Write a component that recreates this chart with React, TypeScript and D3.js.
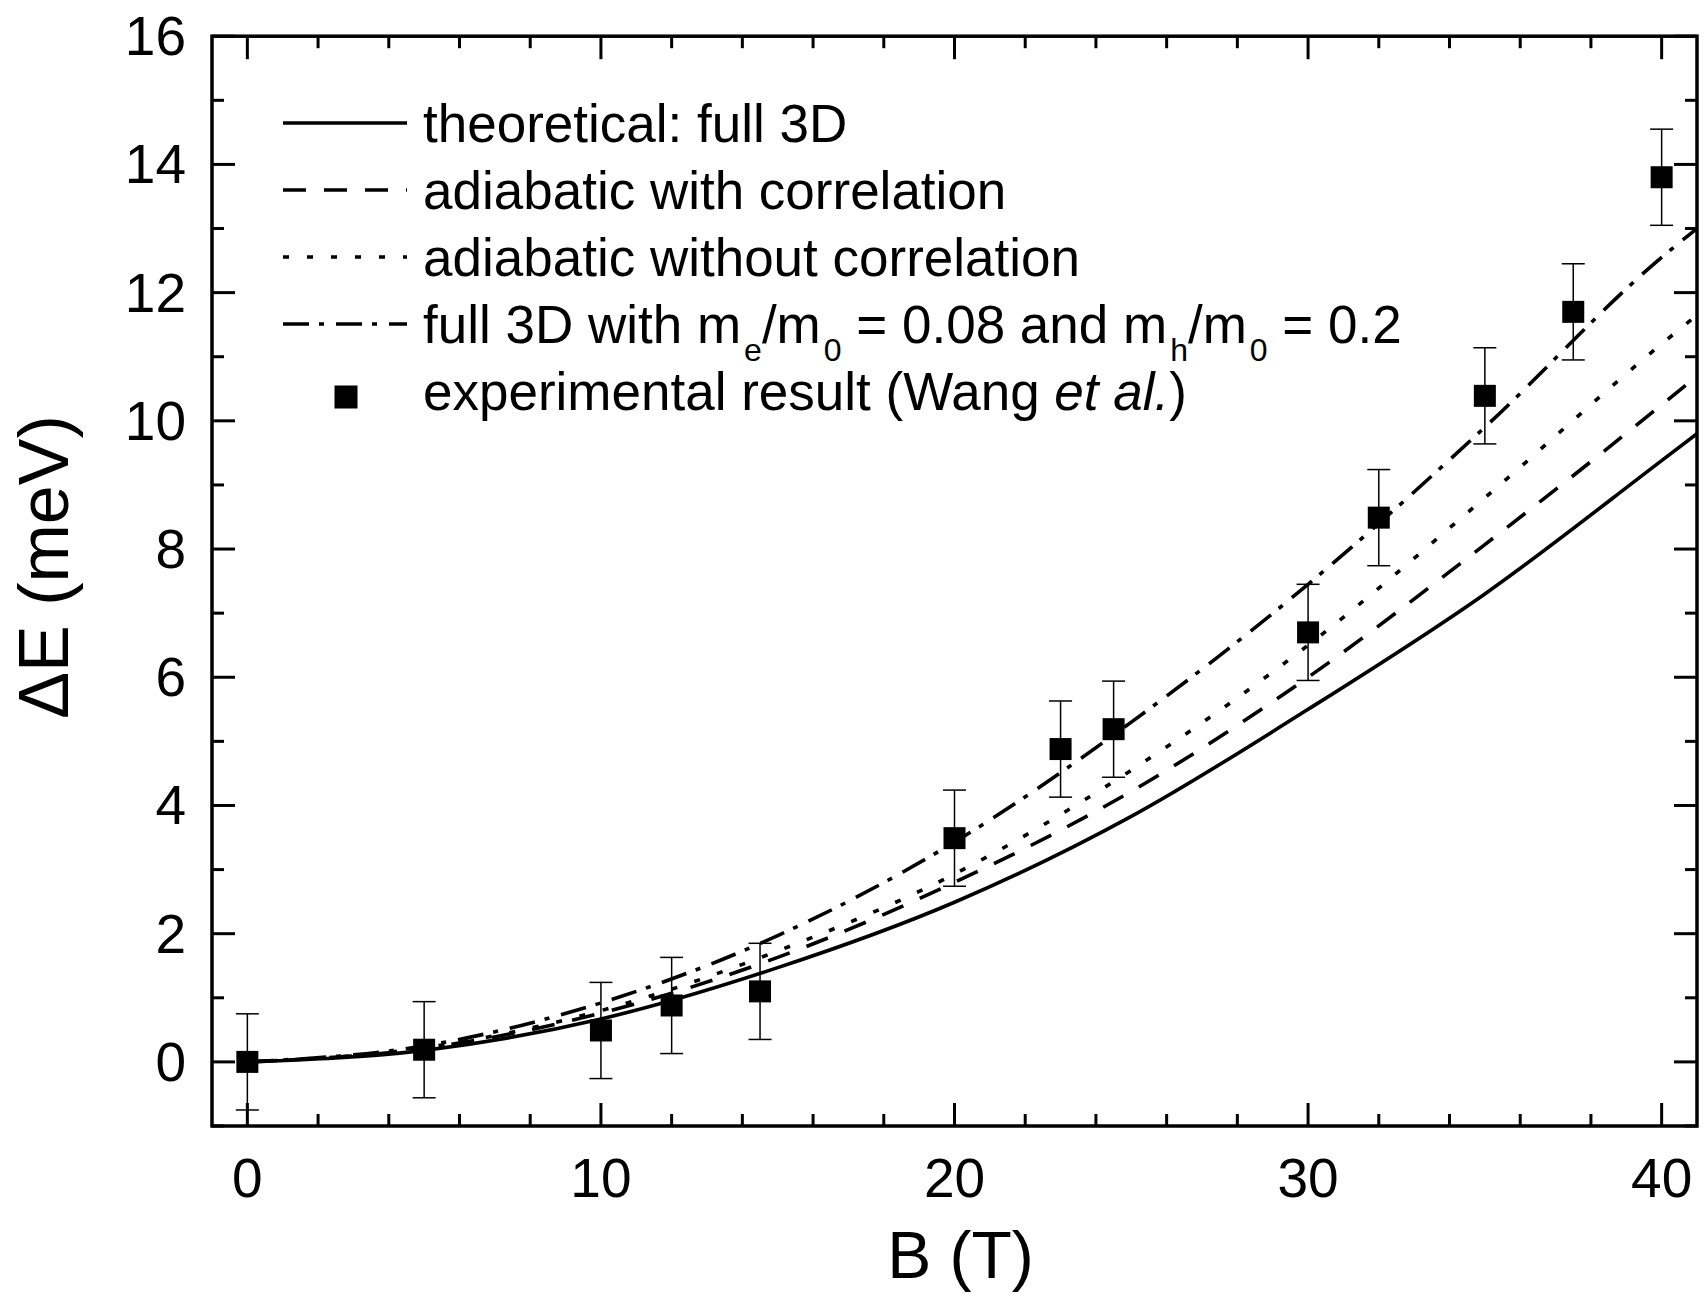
import React from "react";
import * as d3 from "d3";

// ---------- data ----------
const curveB = [0, 5, 10, 15, 20, 25, 30, 35, 40, 41];
const theoreticalFull3D = [0, 0.18, 0.67, 1.47, 2.49, 3.83, 5.5, 7.3, 9.38, 9.8];
const adiabaticWithCorr = [0, 0.21, 0.76, 1.63, 2.8, 4.22, 6.0, 8.07, 10.25, 10.7];
const adiabaticWithoutCorr = [0, 0.22, 0.8, 1.73, 2.93, 4.55, 6.5, 8.8, 11.2, 11.65];
const full3DMasses = [0, 0.25, 0.92, 1.97, 3.43, 5.3, 7.45, 9.9, 12.55, 13.0];

const expB = [0, 5, 10, 12, 14.5, 20, 23, 24.5, 30, 32, 35, 37.5, 40];
const expE = [0, 0.19, 0.49, 0.88, 1.1, 3.49, 4.88, 5.19, 6.7, 8.49, 10.39, 11.7, 13.8];
const expErr = [0.75, 0.75, 0.75, 0.75, 0.75, 0.75, 0.75, 0.75, 0.75, 0.75, 0.75, 0.75, 0.75];

const xMajorTicks = [0, 10, 20, 30, 40];
const xMinorTicks = [2, 4, 6, 8, 12, 14, 16, 18, 22, 24, 26, 28, 32, 34, 36, 38];
const yMajorTicks = [0, 2, 4, 6, 8, 10, 12, 14, 16];
const yMinorTicks = [-1, 1, 3, 5, 7, 9, 11, 13, 15];

const FONT = "'Liberation Sans', Arial, Helvetica, sans-serif";

export default function App() {
  const W = 1704;
  const H = 1294;
  const x = d3.scaleLinear().domain([-1, 41]).range([212, 1697]);
  const y = d3.scaleLinear().domain([-1, 16]).range([1126, 36.2]);
  const [x0, x1] = x.range();
  const [y0, y1] = y.range();

  const line = d3
    .line<number>()
    .x((_, i) => x(curveB[i]))
    .y((d) => y(d))
    .curve(d3.curveMonotoneX);

  const series = [
    { name: "theoretical: full 3D", values: theoreticalFull3D, dash: "none" },
    { name: "adiabatic with correlation", values: adiabaticWithCorr, dash: "23,18" },
    { name: "adiabatic without correlation", values: adiabaticWithoutCorr, dash: "6,18" },
    { name: "full3Dmass", values: full3DMasses, dash: "26,10,5,12" },
  ];

  const majorLen = 23;
  const minorLen = 12;
  const tickW = 3;

  const legendX1 = 283;
  const legendX2 = 407;
  const legendTextX = 423;
  const rowBase = [142, 209, 276, 343, 410];
  const subFs = 32;
  const subDy = 18;
  const subDx = 3;

  return (
    <>
      <style>{`body{margin:0}`}</style>
      <svg width={W} height={H} style={{ display: "block", background: "#fff" }} fontFamily={FONT}>
        <defs>
          <clipPath id="plotClip">
            <rect x={x0} y={y1} width={x1 - x0} height={y0 - y1} />
          </clipPath>
        </defs>

        {/* curves */}
        <g clipPath="url(#plotClip)">
          {series.map((s) => (
            <path
              key={s.name}
              d={line(s.values) || ""}
              fill="none"
              stroke="#000"
              strokeWidth={3.6}
              strokeDasharray={s.dash}
            />
          ))}
        </g>

        {/* error bars and points */}
        <g>
          {expB.map((b, i) => {
            const cx = x(b);
            const top = y(expE[i] + expErr[i]);
            const bot = y(expE[i] - expErr[i]);
            return (
              <g key={i}>
                <line x1={cx} x2={cx} y1={top} y2={bot} stroke="#000" strokeWidth={1.5} />
                <line x1={cx - 11.5} x2={cx + 11.5} y1={top} y2={top} stroke="#000" strokeWidth={1.5} />
                <line x1={cx - 11.5} x2={cx + 11.5} y1={bot} y2={bot} stroke="#000" strokeWidth={1.5} />
                <rect x={cx - 11} y={y(expE[i]) - 11} width={22} height={22} fill="#000" />
              </g>
            );
          })}
        </g>

        {/* ticks */}
        <g stroke="#000" strokeWidth={tickW}>
          {xMajorTicks.map((t) => (
            <g key={"xM" + t}>
              <line x1={x(t)} x2={x(t)} y1={y0} y2={y0 - majorLen} />
              <line x1={x(t)} x2={x(t)} y1={y1} y2={y1 + majorLen} />
            </g>
          ))}
          {xMinorTicks.map((t) => (
            <g key={"xm" + t}>
              <line x1={x(t)} x2={x(t)} y1={y0} y2={y0 - minorLen} />
              <line x1={x(t)} x2={x(t)} y1={y1} y2={y1 + minorLen} />
            </g>
          ))}
          {yMajorTicks.map((t) => (
            <g key={"yM" + t}>
              <line x1={x0} x2={x0 + majorLen} y1={y(t)} y2={y(t)} />
              <line x1={x1} x2={x1 - majorLen} y1={y(t)} y2={y(t)} />
            </g>
          ))}
          {yMinorTicks.map((t) => (
            <g key={"ym" + t}>
              <line x1={x0} x2={x0 + minorLen} y1={y(t)} y2={y(t)} />
              <line x1={x1} x2={x1 - minorLen} y1={y(t)} y2={y(t)} />
            </g>
          ))}
        </g>

        {/* frame */}
        <rect x={x0} y={y1} width={x1 - x0} height={y0 - y1} fill="none" stroke="#000" strokeWidth={3.5} />

        {/* tick labels */}
        <g fontSize={55} fill="#000">
          {xMajorTicks.map((t) => (
            <text key={"xl" + t} x={x(t)} y={1197} textAnchor="middle">
              {t}
            </text>
          ))}
          {yMajorTicks.map((t) => (
            <text key={"yl" + t} x={186} y={y(t) + 19} textAnchor="end">
              {t}
            </text>
          ))}
        </g>

        {/* axis titles */}
        <text x={(x0 + x1) / 2 + 6} y={1278} fontSize={66} textAnchor="middle">
          B (T)
        </text>
        <text transform={`translate(68, 567) rotate(-90)`} fontSize={70} textAnchor="middle">
          ΔE (meV)
        </text>

        {/* legend */}
        <g fontSize={53} fill="#000">
          {series.map((s, i) => (
            <line
              key={"lg" + i}
              x1={legendX1}
              x2={legendX2}
              y1={rowBase[i] - 19}
              y2={rowBase[i] - 19}
              stroke="#000"
              strokeWidth={3.6}
              strokeDasharray={s.dash}
            />
          ))}
          <text x={legendTextX} y={rowBase[0]}>theoretical: full 3D</text>
          <text x={legendTextX} y={rowBase[1]}>adiabatic with correlation</text>
          <text x={legendTextX} y={rowBase[2]}>adiabatic without correlation</text>
          <text x={legendTextX} y={rowBase[3]}>
            full 3D with m
            <tspan fontSize={subFs} dx={subDx} dy={subDy}>e</tspan>
            <tspan dy={-subDy}>/m</tspan>
            <tspan fontSize={subFs} dx={subDx} dy={subDy}>0</tspan>
            <tspan dy={-subDy}> = 0.08 and m</tspan>
            <tspan fontSize={subFs} dx={subDx} dy={subDy}>h</tspan>
            <tspan dy={-subDy}>/m</tspan>
            <tspan fontSize={subFs} dx={subDx} dy={subDy}>0</tspan>
            <tspan dy={-subDy}> = 0.2</tspan>
          </text>
          <rect x={346 - 11.5} y={397 - 11.5} width={23} height={23} fill="#000" />
          <text x={legendTextX} y={rowBase[4]}>
            experimental result (Wang <tspan fontStyle="italic">et al.</tspan>)
          </text>
        </g>
      </svg>
    </>
  );
}
